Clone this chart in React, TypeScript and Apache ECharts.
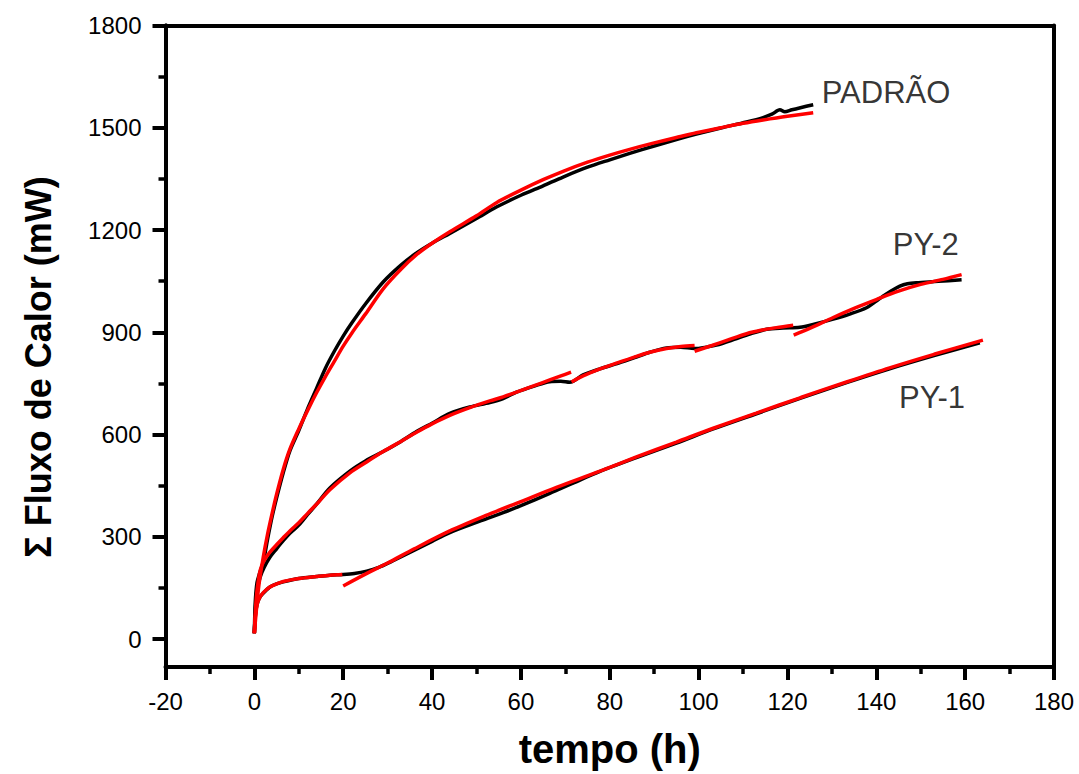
import React, { useEffect, useRef } from "react";
import * as echarts from "echarts";

// ---------- axis ranges & ticks ----------
const X_MIN = -20;
const X_MAX = 180;
const X_INTERVAL = 20;
const Y_MIN = -100;
const Y_MAX = 1800;
const Y_TICK_MIN = 0;
const Y_INTERVAL = 300;

const X_TITLE = "tempo (h)";
const Y_TITLE = "Σ Fluxo de Calor (mW)";

// ---------- data (x = tempo h, y = Σ fluxo mW) ----------
const padraoExp: number[][] = [
  [0, 0], [0.2, 90], [0.6, 150], [1.2, 178], [2, 210], [3, 280], [4, 345], [5, 400],
  [6.5, 475], [8, 540], [10, 600], [12, 665], [14, 725], [16, 785], [18, 835], [20, 880],
  [22, 920], [25, 975], [29, 1040], [33, 1090], [36.5, 1126], [40, 1155], [44, 1184],
  [50, 1228], [54.5, 1262], [60, 1297], [65, 1325], [69.5, 1351], [75, 1380], [80, 1402],
  [84.5, 1421], [90, 1443], [95, 1462], [99.5, 1478], [105, 1496], [110.8, 1514],
  [114.5, 1527], [116.5, 1537], [118.3, 1550], [119.4, 1544], [121, 1550], [125.8, 1565],
];
const padraoFit: number[][] = [
  [0, 0], [0.5, 75], [1, 140], [2, 225], [3, 295], [4, 355], [5, 411], [6.5, 485],
  [8, 545], [10, 605], [12, 660], [14, 712], [16, 760], [18, 805], [20, 850], [22, 890],
  [25, 945], [29, 1020], [33, 1078], [36.5, 1121], [40, 1155], [44, 1189], [50, 1236],
  [54.5, 1275], [60, 1312], [65, 1343], [69.5, 1368], [75, 1395], [80, 1416], [84.5, 1433],
  [90, 1452], [95, 1468], [99.5, 1482], [105, 1497], [110, 1510], [114.5, 1520],
  [120, 1531], [125.8, 1541],
];

const py2Exp: number[][] = [
  [0, 0], [0.2, 60], [0.5, 120], [1.3, 166], [2.2, 195], [3.5, 225], [5, 250], [6.5, 274],
  [8, 296], [10, 320], [12, 352], [14, 382], [17, 430], [21.5, 480], [25, 510], [29, 538],
  [33, 568], [36.5, 597], [40, 622], [44, 651], [48.5, 670], [53, 683], [56, 695],
  [59, 714], [63, 732], [66.5, 745], [69, 746], [71, 743], [74, 765], [77.8, 783],
  [82, 800], [86, 818], [89, 832], [92.8, 845], [96, 847], [99.1, 843], [102, 848],
  [104, 853], [108, 870], [111.5, 886], [115.3, 900], [119, 904], [122.8, 906],
  [126, 915], [130.3, 930], [134, 945], [137.8, 964], [140, 984], [141.5, 998],
  [143.5, 1015], [145.3, 1028], [147, 1035], [149, 1038], [154, 1042], [159.2, 1047],
];
const py2FitA: number[][] = [
  [0, 0], [0.3, 80], [0.6, 127], [1.3, 186], [2.2, 215], [3.5, 240], [5, 262], [6.5, 283],
  [8, 303], [10, 327], [12, 355], [14, 382], [17, 425], [21.5, 475], [25, 505], [29, 538],
  [33, 568], [36.5, 595], [40, 620], [44, 645], [48.5, 668], [53, 688], [56, 700],
  [59, 714], [63, 733], [66.5, 750], [69, 762], [71.3, 773],
];
const py2FitB: number[][] = [
  [71.4, 744], [74, 762], [77.8, 783], [82, 802], [86, 820], [89, 832], [92.8, 843],
  [96, 849], [99.1, 852],
];
const py2FitC: number[][] = [
  [99.1, 835], [103, 852], [106.5, 868], [110.8, 887], [114, 897], [117.5, 905], [121.3, 912],
];
const py2FitD: number[][] = [
  [121.4, 883], [125, 903], [130.3, 935], [135, 962], [140, 988], [145, 1013], [150, 1033],
  [155, 1048], [159.2, 1062],
];

const py1Exp: number[][] = [
  [0, 0], [0.2, 50], [0.6, 85], [1.3, 108], [2.5, 125], [3.5, 137], [5, 146], [6.5, 152],
  [10, 162], [14, 168], [17, 172], [20, 174], [22.5, 177], [25.3, 184], [28, 195],
  [30.5, 210], [35, 239], [40, 272], [44, 298], [50, 328], [56, 357], [60, 378],
  [66.5, 414], [72, 446], [77.8, 479], [86, 520], [95, 563], [103.3, 605], [113, 650],
  [123, 696], [133.3, 742], [143, 783], [153, 822], [163.3, 860],
];
const py1FitA: number[][] = [
  [0, 0], [0.2, 45], [0.5, 78], [1, 100], [2, 120], [3.5, 137], [5, 146], [6.5, 153],
  [10, 162], [14, 168], [17, 172], [19.8, 174],
];
const py1FitB: number[][] = [
  [20, 140], [25, 175], [30, 208], [36, 250], [44, 303], [52, 348], [60, 390], [68, 432],
  [77.8, 480], [86, 522], [95, 566], [103.3, 607], [113, 652], [123, 698], [133.3, 744],
  [143, 786], [153, 826], [164, 868],
];

// curve annotations (anchored at data coordinates)
const annotationNames = ["PADRÃO", "PY-2", "PY-1"];
const annotationX = [127.6, 143.6, 145];
const annotationY = [1602, 1150, 699];

// ---------- styling ----------
const FONT = "'Liberation Sans', Arial, Helvetica, sans-serif";
const W = 1079;
const H = 774;
const GRID_LEFT = 165.5;
const GRID_RIGHT = 25;
const GRID_TOP = 25.4;
const GRID_BOTTOM = 100.7;
const AXIS_W = 4;
const SERIES_W = 3.5;

export default function App() {
  const ref = useRef<HTMLDivElement>(null);

  useEffect(() => {
    if (!ref.current) return;
    const chart = echarts.init(ref.current, null, { renderer: "svg" });

    // grid holding only the labelled y ticks (0..1800), aligned with main grid
    const plotBottomPx = H - GRID_BOTTOM;
    const plotH = plotBottomPx - GRID_TOP;
    const zeroPx = plotBottomPx - ((Y_TICK_MIN - Y_MIN) / (Y_MAX - Y_MIN)) * plotH;
    const tickGridBottom = H - zeroPx;

    const lineStyleAxis = { color: "#000", width: AXIS_W };
    const plain = (v: number) => String(v);

    const expLine = (data: number[][]) => ({
      type: "line",
      data,
      xAxisIndex: 0,
      yAxisIndex: 0,
      showSymbol: false,
      symbol: "none",
      smooth: 0.3,
      lineStyle: { color: "#000", width: SERIES_W },
      z: 2,
    });
    const fitLine = (data: number[][]) => ({
      type: "line",
      data,
      xAxisIndex: 0,
      yAxisIndex: 0,
      showSymbol: false,
      symbol: "none",
      smooth: 0.3,
      lineStyle: { color: "#ff0000", width: SERIES_W },
      z: 3,
    });

    const option: any = {
      animation: false,
      backgroundColor: "#fff",
      textStyle: { fontFamily: FONT },
      grid: [
        { left: GRID_LEFT, right: GRID_RIGHT, top: GRID_TOP, bottom: GRID_BOTTOM, containLabel: false },
        { left: GRID_LEFT, right: GRID_RIGHT, top: GRID_TOP, bottom: tickGridBottom, containLabel: false },
      ],
      xAxis: [
        {
          type: "value",
          gridIndex: 0,
          min: X_MIN,
          max: X_MAX,
          interval: X_INTERVAL,
          position: "bottom",
          name: X_TITLE,
          nameLocation: "middle",
          nameGap: 62,
          nameTextStyle: { fontFamily: FONT, fontSize: 40, fontWeight: "bold", color: "#000" },
          axisLine: { show: true, onZero: false, lineStyle: lineStyleAxis },
          axisTick: { show: true, inside: false, length: 13, lineStyle: { color: "#000", width: 4 } },
          minorTick: { show: true, splitNumber: 2, length: 7, lineStyle: { color: "#000", width: 3.5 } },
          axisLabel: { show: true, fontFamily: FONT, fontSize: 24, color: "#000", margin: 22, formatter: plain },
          splitLine: { show: false },
          minorSplitLine: { show: false },
        },
        {
          type: "value",
          gridIndex: 0,
          min: X_MIN,
          max: X_MAX,
          position: "top",
          axisLine: { show: true, onZero: false, lineStyle: lineStyleAxis },
          axisTick: { show: false },
          axisLabel: { show: false },
          splitLine: { show: false },
        },
        {
          type: "value",
          gridIndex: 1,
          min: X_MIN,
          max: X_MAX,
          show: false,
        },
      ],
      yAxis: [
        {
          type: "value",
          gridIndex: 0,
          min: Y_MIN,
          max: Y_MAX,
          position: "left",
          axisLine: { show: true, onZero: false, lineStyle: lineStyleAxis },
          axisTick: { show: false },
          axisLabel: { show: false },
          splitLine: { show: false },
        },
        {
          type: "value",
          gridIndex: 0,
          min: Y_MIN,
          max: Y_MAX,
          position: "right",
          axisLine: { show: true, onZero: false, lineStyle: lineStyleAxis },
          axisTick: { show: false },
          axisLabel: { show: false },
          splitLine: { show: false },
        },
        {
          type: "value",
          gridIndex: 1,
          min: Y_TICK_MIN,
          max: Y_MAX,
          interval: Y_INTERVAL,
          position: "left",
          axisLine: { show: true, onZero: false, lineStyle: lineStyleAxis },
          axisTick: { show: true, inside: false, length: 13, lineStyle: { color: "#000", width: 4 } },
          minorTick: { show: true, splitNumber: 2, length: 7, lineStyle: { color: "#000", width: 3.5 } },
          axisLabel: { show: true, fontFamily: FONT, fontSize: 24, color: "#000", margin: 24, formatter: plain },
          splitLine: { show: false },
          minorSplitLine: { show: false },
        },
      ],
      graphic: [
        {
          type: "text",
          x: 38,
          y: 367,
          rotation: Math.PI / 2,
          style: {
            text: Y_TITLE,
            fontFamily: FONT,
            fontSize: 36,
            fontWeight: "bold",
            fill: "#000",
            align: "center",
            verticalAlign: "middle",
          },
        },
      ],
      series: [
        expLine(padraoExp),
        expLine(py2Exp),
        expLine(py1Exp),
        fitLine(padraoFit),
        fitLine(py2FitA),
        fitLine(py2FitB),
        fitLine(py2FitC),
        fitLine(py2FitD),
        fitLine(py1FitA),
        fitLine(py1FitB),
        {
          type: "scatter",
          xAxisIndex: 0,
          yAxisIndex: 0,
          symbolSize: 1,
          itemStyle: { color: "rgba(0,0,0,0)" },
          silent: true,
          data: annotationNames.map((n, i) => [annotationX[i], annotationY[i], n]),
          label: {
            show: true,
            position: "right",
            distance: 0,
            fontFamily: FONT,
            fontSize: 31,
            color: "#000",
            formatter: (p: any) => p.data[2],
          },
          z: 5,
        },
      ],
    };

    chart.setOption(option);
    return () => chart.dispose();
  }, []);

  return (
    <div
      ref={ref}
      style={{ position: "fixed", left: 0, top: 0, width: W, height: H, background: "#fff" }}
    />
  );
}
